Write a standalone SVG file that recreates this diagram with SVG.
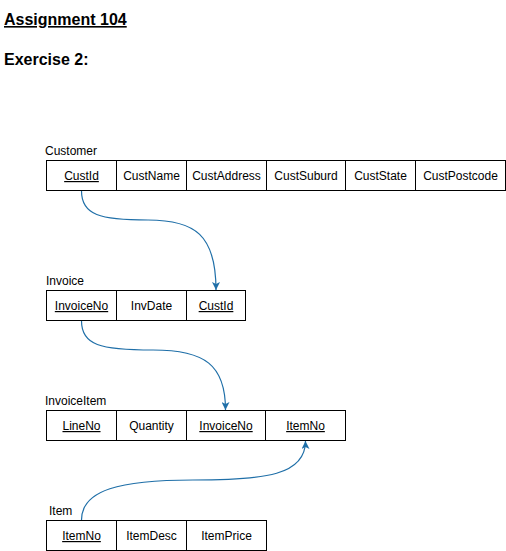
<svg xmlns="http://www.w3.org/2000/svg" width="506" height="551" viewBox="0 0 506 551">
<style>
text{font-family:"Liberation Sans",Arial,sans-serif;fill:#000}
.h{font-size:16px;font-weight:bold}
.lbl{font-size:12px}
.c{font-size:12px;text-anchor:middle}
.u{text-decoration:underline}
rect{fill:#fff;stroke:#000;stroke-width:1}
.e{fill:none;stroke:#1f6fa8;stroke-width:1.2;marker-end:url(#arr)}
</style>
<defs>
<marker id="arr" viewBox="0 0 10 10" refX="10" refY="5" markerWidth="8" markerHeight="8" markerUnits="userSpaceOnUse" orient="auto">
<path d="M0,0 L10,5 L0,10 L2.5,5 Z" fill="#1f6fa8"/>
</marker>
</defs>
<rect x="0" y="0" width="506" height="551" style="stroke:none"/>
<text class="h u" x="4" y="25">Assignment 104</text>
<text class="h" x="4" y="65">Exercise 2:</text>

<g id="customer">
<text class="lbl" x="45" y="155">Customer</text>
<rect x="46.5" y="160.5" width="70" height="30"/>
<rect x="116.5" y="160.5" width="70" height="30"/>
<rect x="186.5" y="160.5" width="80" height="30"/>
<rect x="266.5" y="160.5" width="79" height="30"/>
<rect x="345.5" y="160.5" width="70" height="30"/>
<rect x="415.5" y="160.5" width="90" height="30"/>
<text class="c u" x="81.5" y="180">CustId</text>
<text class="c" x="151.5" y="180">CustName</text>
<text class="c" x="226.5" y="180">CustAddress</text>
<text class="c" x="306" y="180">CustSuburd</text>
<text class="c" x="380.5" y="180">CustState</text>
<text class="c" x="460.5" y="180">CustPostcode</text>
</g>

<g id="invoice">
<text class="lbl" x="46" y="285">Invoice</text>
<rect x="46.5" y="290.5" width="70" height="30"/>
<rect x="116.5" y="290.5" width="70" height="30"/>
<rect x="186.5" y="290.5" width="59" height="30"/>
<text class="c u" x="81.5" y="310">InvoiceNo</text>
<text class="c" x="151.5" y="310">InvDate</text>
<text class="c u" x="216" y="310">CustId</text>
</g>

<g id="invoiceitem">
<text class="lbl" x="45" y="405">InvoiceItem</text>
<rect x="46.5" y="410.5" width="70" height="30"/>
<rect x="116.5" y="410.5" width="70" height="30"/>
<rect x="186.5" y="410.5" width="79" height="30"/>
<rect x="265.5" y="410.5" width="80" height="30"/>
<text class="c u" x="81.5" y="430">LineNo</text>
<text class="c" x="151.5" y="430">Quantity</text>
<text class="c u" x="226" y="430">InvoiceNo</text>
<text class="c u" x="305.5" y="430">ItemNo</text>
</g>

<g id="item">
<text class="lbl" x="49" y="515">Item</text>
<rect x="46.5" y="520.5" width="70" height="30"/>
<rect x="116.5" y="520.5" width="70" height="30"/>
<rect x="186.5" y="520.5" width="80" height="30"/>
<text class="c u" x="81.5" y="540">ItemNo</text>
<text class="c" x="151.5" y="540">ItemDesc</text>
<text class="c" x="226.5" y="540">ItemPrice</text>
</g>

<g id="connectors">
<path class="e" d="M81.5,191 C81.5,215 100,220 148,220 C195,220 216,235 216,290"/>
<path class="e" d="M81.5,321 C81.5,345 100,350 153,350 C205,350 225.5,365 225.5,410"/>
<path class="e" d="M81.5,520 C81.5,490 120,480 193,480 C266,480 305.5,475 305.5,441"/>
</g>
</svg>
